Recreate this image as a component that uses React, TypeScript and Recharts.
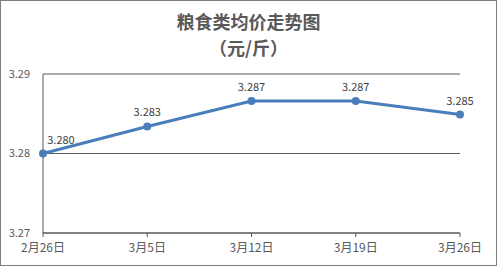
import { LineChart, Line, CartesianGrid, XAxis, YAxis, LabelList } from "recharts";

const dates = ["2月26日", "3月5日", "3月12日", "3月19日", "3月26日"];
const prices = [3.28, 3.2834, 3.2866, 3.2866, 3.2849];
const priceLabels = ["3.280", "3.283", "3.287", "3.287", "3.285"];
const yTicks = [3.27, 3.28, 3.29];

const data = dates.map((d, i) => ({ date: d, price: prices[i], label: priceLabels[i] }));

const font = "'Noto Sans CJK SC', 'Noto Sans', sans-serif";

const PointLabel = (props: any) => {
  const { x, y, index } = props;
  const shift = index === 0 ? 18 : 0;
  return (
    <text x={x + shift} y={y - 10} textAnchor="middle" fontSize={11} fill="#404040" fontFamily={font}>
      {priceLabels[index]}
    </text>
  );
};

const titleStyle = {
  position: "absolute" as const,
  left: 0,
  width: 495,
  textAlign: "center" as const,
  fontSize: 18,
  fontWeight: 600,
  color: "#595959",
  lineHeight: "24px",
};

export default function App() {
  return (
    <div
      style={{
        position: "absolute",
        left: 0,
        top: 0,
        width: 497,
        height: 266,
        boxSizing: "border-box",
        border: "1px solid #7f7f7f",
        background: "#fff",
        fontFamily: font,
      }}
    >
      <div style={{ ...titleStyle, top: 8 }}>粮食类均价走势图</div>
      <div style={{ ...titleStyle, top: 34 }}>（元/斤）</div>
      <LineChart
        width={495}
        height={264}
        data={data}
        margin={{ top: 73, right: 36, left: 2, bottom: 2 }}
        style={{ position: "absolute", left: 0, top: 0 }}
      >
        <CartesianGrid vertical={false} stroke="#595959" />
        <XAxis
          dataKey="date"
          height={30}
          padding={{ left: 0, right: 0 }}
          axisLine={{ stroke: "#595959" }}
          tickLine={{ stroke: "#595959" }}
          tickSize={4}
          tick={{ fontSize: 12, fill: "#595959", fontFamily: font, dy: 4 }}
          interval={0}
        />
        <YAxis
          width={40}
          domain={[3.27, 3.29]}
          ticks={yTicks}
          tickFormatter={(v: number) => v.toFixed(2)}
          axisLine={{ stroke: "#595959" }}
          tickLine={false}
          tick={{ fontSize: 11, fill: "#595959", fontFamily: font, dx: -5 }}
        />
        <Line
          dataKey="price"
          stroke="#4A7EBB"
          strokeWidth={3}
          dot={{ r: 4, fill: "#4A7EBB", stroke: "#4A7EBB", strokeWidth: 0 }}
          isAnimationActive={false}
        >
          <LabelList dataKey="price" content={<PointLabel />} />
        </Line>
      </LineChart>
    </div>
  );
}
